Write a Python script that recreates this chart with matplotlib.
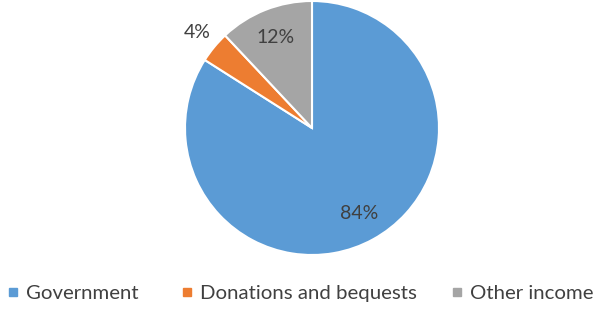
import matplotlib.pyplot as plt
from matplotlib.lines import Line2D

# income sources
labels = ['Government', 'Donations and bequests', 'Other income']
shares = [84, 4, 12]
colors = ['#5B9BD5', '#ED7D31', '#A5A5A5']
legend_x = [8, 182, 452]  # left edge of each legend entry, pixels

plt.rcParams['font.family'] = ['Lato', 'DejaVu Sans']

fig = plt.figure(figsize=(5.98, 3.09), dpi=100)
ax = fig.add_axes([185 / 598, (309 - 255) / 309, 254 / 598, 254 / 309])

wedges, texts, autotexts = ax.pie(
    shares, colors=colors, startangle=90, counterclock=False,
    autopct='%1.0f%%', pctdistance=0.77,
    wedgeprops=dict(edgecolor='white', linewidth=1.5),
    textprops=dict(color='#404040', fontsize=14))

# small slice label sits outside the pie
autotexts[1].set_position((-0.905, 0.75))

ax.set_xlim(-1, 1)
ax.set_ylim(-1, 1)
ax.set_aspect('equal')

# Excel-style legend entries, each placed on its own
for lab, c, x in zip(labels, colors, legend_x):
    h = Line2D([], [], marker='s', linestyle='none', markersize=5.8,
               markerfacecolor=c, markeredgecolor=c)
    fig.legend([h], [lab], loc='center left',
               bbox_to_anchor=(x / 598, (309 - 293) / 309),
               frameon=False, fontsize=14.7, labelcolor='#404040',
               handletextpad=0.37, handlelength=0.5,
               borderaxespad=0, borderpad=0)

fig.savefig('out.png', dpi=100)
